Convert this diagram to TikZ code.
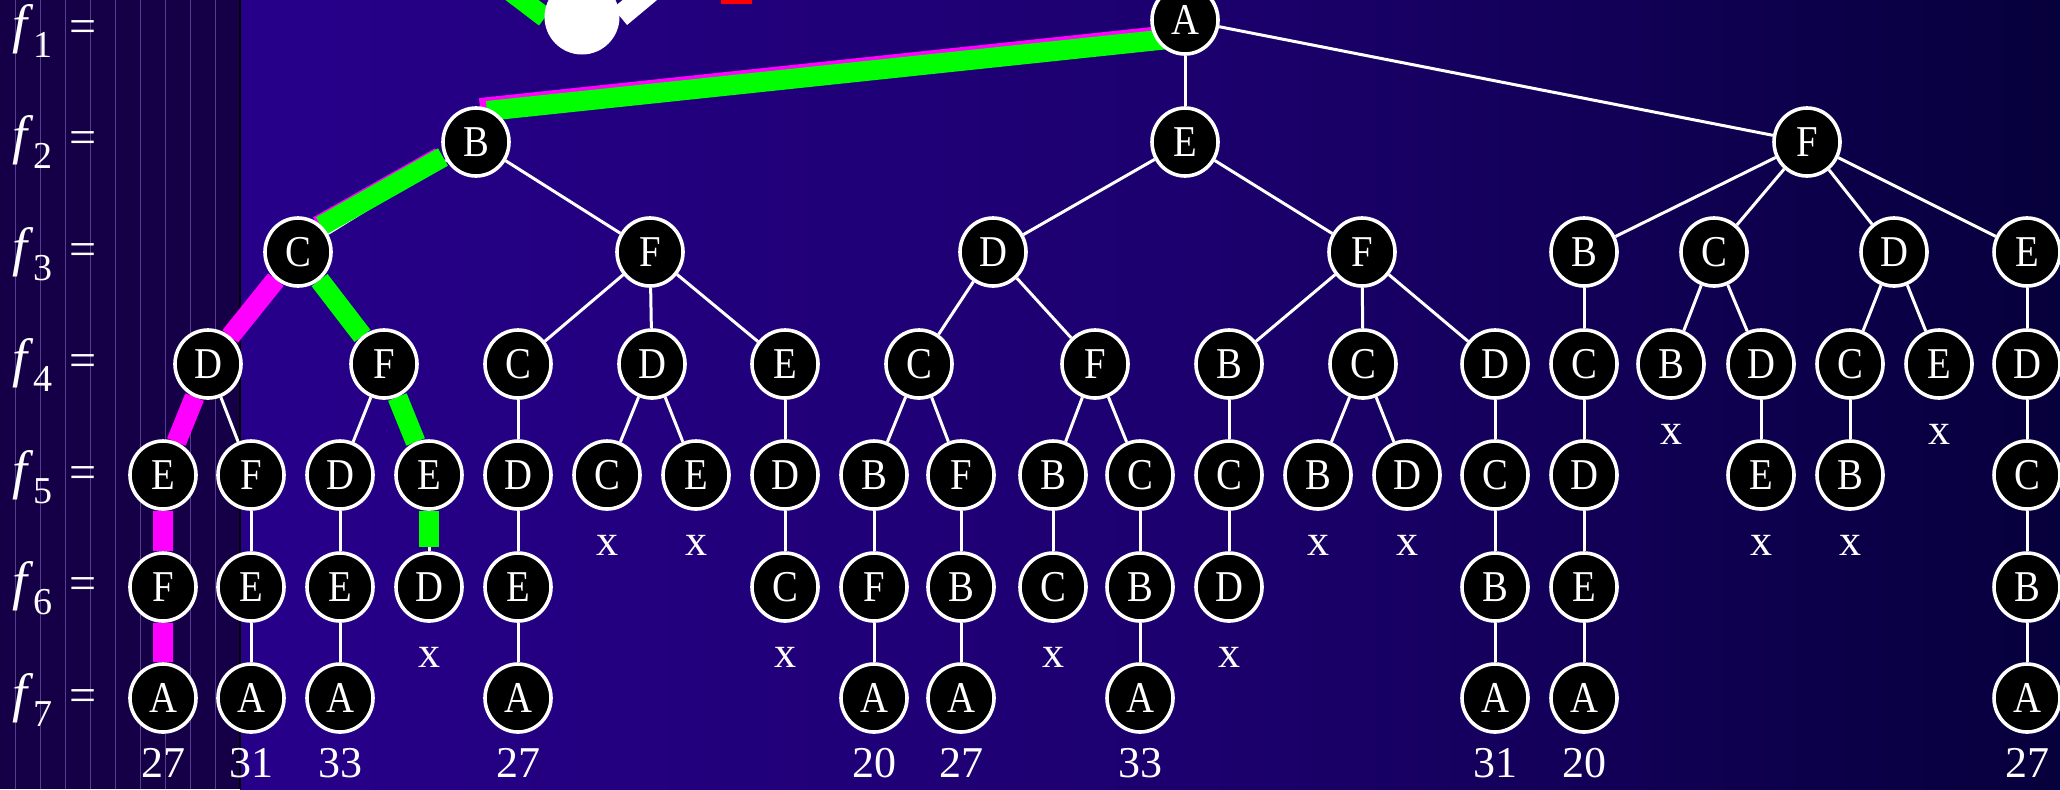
\documentclass[tikz,border=0pt]{standalone}
\usepackage{fontspec}
\setmainfont{Liberation Serif}
\newfontfamily\treefont[FakeStretch=0.88]{Liberation Serif}
\usetikzlibrary{positioning,calc,shapes.geometric,backgrounds}
\definecolor{bgleft}{RGB}{39,0,138}
\definecolor{bgmid}{RGB}{28,0,110}
\definecolor{bgright}{RGB}{6,0,60}
\definecolor{panel}{RGB}{21,0,72}
\definecolor{panelline}{RGB}{84,62,146}
\definecolor{hlgreen}{RGB}{0,255,0}
\definecolor{hlmag}{RGB}{255,0,255}
\definecolor{hlred}{RGB}{255,0,0}
\newcommand{\fsub}[1]{{\fontsize{27}{27}\selectfont\itshape f}\kern3pt\raisebox{-7.5pt}{\fontsize{19}{19}\selectfont #1}\kern8.5pt=}
\tikzset{
  st/.style={ellipse,draw=white,fill=black,line width=1.8pt,minimum width=33pt,
    minimum height=34pt,inner sep=0pt,text=white,
    font=\treefont\fontsize{22}{22}\selectfont},
  tedge/.style={white,line width=1.5pt},
  hlg/.style={hlgreen,line width=10pt},
  hlm/.style={hlmag,line width=10pt},
  xlbl/.style={text=white,inner sep=0pt,font=\fontsize{22}{22}\selectfont},
  costlbl/.style={text=white,inner sep=0pt,font=\fontsize{22}{22}\selectfont},
  flbl/.style={text=white,inner sep=0pt,anchor=base west,
    font=\fontsize{24}{24}\selectfont},
}

\begin{document}
\begin{tikzpicture}[x=0.5pt,y=-0.5pt]
  \useasboundingbox (0,0) rectangle (2060,789);
  % f_k = labels
  \foreach \k in {1,...,7}
    \node[flbl] (f\k) at (12,{42+111.5*(\k-1)}) {\fsub{\k}};
  % level 1--3
  \node[st] (a) at (1185,20) {A};
  \node[st] (ab) at (476,142) {B};
  \node[st] (ae) at (1185,142) {E};
  \node[st] (af) at (1807,142) {F};
  \node[st] (abc) at (298,252) {C};
  \node[st] (abf) at (650,252) {F};
  \node[st] (aed) at (993,252) {D};
  \node[st] (aef) at (1362,252) {F};
  \node[st] (afb) at (1584,252) {B};
  \node[st] (afc) at (1714,252) {C};
  \node[st] (afd) at (1894,252) {D};
  \node[st] (afe) at (2027,252) {E};
  % level 4
  \node[st] (abcd) at (208,364) {D};
  \node[st] (abcf) at (384,364) {F};
  \node[st] (abfc) at (518,364) {C};
  \node[st] (abfd) at (652,364) {D};
  \node[st] (abfe) at (785,364) {E};
  \node[st] (aedc) at (919,364) {C};
  \node[st] (aedf) at (1095,364) {F};
  \node[st] (aefb) at (1229,364) {B};
  \node[st] (aefc) at (1363,364) {C};
  \node[st] (aefd) at (1495,364) {D};
  \node[st] (afbc) at (1584,364) {C};
  \node[st] (afcb) at (1671,364) {B};
  \node[st] (afcd) at (1761,364) {D};
  \node[st] (afdc) at (1850,364) {C};
  \node[st] (afde) at (1939,364) {E};
  \node[st] (afed) at (2027,364) {D};
  % level 5
  \node[st] (abcde) at (163,475) {E};
  \node[st] (abcdf) at (251,475) {F};
  \node[st] (abcfd) at (340,475) {D};
  \node[st] (abcfe) at (429,475) {E};
  \node[st] (abfcd) at (518,475) {D};
  \node[st] (abfdc) at (607,475) {C};
  \node[st] (abfde) at (696,475) {E};
  \node[st] (abfed) at (785,475) {D};
  \node[st] (aedcb) at (874,475) {B};
  \node[st] (aedcf) at (961,475) {F};
  \node[st] (aedfb) at (1053,475) {B};
  \node[st] (aedfc) at (1140,475) {C};
  \node[st] (aefbc) at (1229,475) {C};
  \node[st] (aefcb) at (1318,475) {B};
  \node[st] (aefcd) at (1407,475) {D};
  \node[st] (aefdc) at (1495,475) {C};
  \node[st] (afbcd) at (1584,475) {D};
  \node[st] (afcde) at (1761,475) {E};
  \node[st] (afdcb) at (1850,475) {B};
  \node[st] (afedc) at (2027,475) {C};
  % level 6
  \node[st] (abcdef) at (163,587) {F};
  \node[st] (abcdfe) at (251,587) {E};
  \node[st] (abcfde) at (340,587) {E};
  \node[st] (abcfed) at (429,587) {D};
  \node[st] (abfcde) at (518,587) {E};
  \node[st] (abfedc) at (785,587) {C};
  \node[st] (aedcbf) at (874,587) {F};
  \node[st] (aedcfb) at (961,587) {B};
  \node[st] (aedfbc) at (1053,587) {C};
  \node[st] (aedfcb) at (1140,587) {B};
  \node[st] (aefbcd) at (1229,587) {D};
  \node[st] (aefdcb) at (1495,587) {B};
  \node[st] (afbcde) at (1584,587) {E};
  \node[st] (afedcb) at (2027,587) {B};
  % level 7
  \node[st] (abcdefa) at (163,698) {A};
  \node[st] (abcdfea) at (251,698) {A};
  \node[st] (abcfdea) at (340,698) {A};
  \node[st] (abfcdea) at (518,698) {A};
  \node[st] (aedcbfa) at (874,698) {A};
  \node[st] (aedcfba) at (961,698) {A};
  \node[st] (aedfcba) at (1140,698) {A};
  \node[st] (aefdcba) at (1495,698) {A};
  \node[st] (afbcdea) at (1584,698) {A};
  \node[st] (afedcba) at (2027,698) {A};
  % tour lengths
  \node[costlbl,below=7pt of abcdefa] (sc1) {27};
  \node[costlbl,below=7pt of abcdfea] (sc2) {31};
  \node[costlbl,below=7pt of abcfdea] (sc3) {33};
  \node[costlbl,below=7pt of abfcdea] (sc4) {27};
  \node[costlbl,below=7pt of aedcbfa] (sc5) {20};
  \node[costlbl,below=7pt of aedcfba] (sc6) {27};
  \node[costlbl,below=7pt of aedfcba] (sc7) {33};
  \node[costlbl,below=7pt of aefdcba] (sc8) {31};
  \node[costlbl,below=7pt of afbcdea] (sc9) {20};
  \node[costlbl,below=7pt of afedcba] (sc10) {27};
  % dead ends
  \node[xlbl,below=12pt of abcfed] (x1) {x};
  \node[xlbl,below=12pt of abfdc] (x2) {x};
  \node[xlbl,below=12pt of abfde] (x3) {x};
  \node[xlbl,below=12pt of abfedc] (x4) {x};
  \node[xlbl,below=12pt of aedfbc] (x5) {x};
  \node[xlbl,below=12pt of aefbcd] (x6) {x};
  \node[xlbl,below=12pt of aefcb] (x7) {x};
  \node[xlbl,below=12pt of aefcd] (x8) {x};
  \node[xlbl,below=12pt of afcb] (x9) {x};
  \node[xlbl,below=12pt of afcde] (x10) {x};
  \node[xlbl,below=12pt of afdcb] (x11) {x};
  \node[xlbl,below=12pt of afde] (x12) {x};

  \begin{pgfonlayer}{background}
    \shade[left color=bgleft,right color=bgmid] (240,0) rectangle (1200,789);
    \shade[left color=bgmid,right color=bgright] (1200,0) rectangle (2060,789);
    \fill[panel] (0,0) rectangle (240,789);
    \foreach \x in {15,40,...,215}
      \draw[panelline,line width=0.5pt] (\x,0) -- (\x,789);
    \draw[black,line width=0.6pt] (240,0) -- (240,789);
    % cut-off figure at the top
    \draw[hlgreen,line width=10pt] (545,17.5) -- (497,-19);
    \draw[white,line width=11pt] (620,16.5) -- (659,-16);
    \fill[white] (582,17) circle[radius=37.5];
    \fill[hlred] (721,-5) rectangle (752,4);
    % tree edges
    \foreach \p/\c in {a/ae,a/af,ab/abc,ab/abf,abc/abcd,abc/abcf,
        abcd/abcde,abcd/abcdf,abcde/abcdef,abcdef/abcdefa,abcdf/abcdfe,
        abcdfe/abcdfea,abcf/abcfd,abcf/abcfe,abcfd/abcfde,abcfde/abcfdea,
        abcfe/abcfed,abf/abfc,abf/abfd,abf/abfe,abfc/abfcd,abfcd/abfcde,
        abfcde/abfcdea,abfd/abfdc,abfd/abfde,abfe/abfed,abfed/abfedc,
        ae/aed,ae/aef,aed/aedc,aed/aedf,aedc/aedcb,aedc/aedcf,
        aedcb/aedcbf,aedcbf/aedcbfa,aedcf/aedcfb,aedcfb/aedcfba,
        aedf/aedfb,aedf/aedfc,aedfb/aedfbc,aedfc/aedfcb,aedfcb/aedfcba,
        aef/aefb,aef/aefc,aef/aefd,aefb/aefbc,aefbc/aefbcd,aefc/aefcb,
        aefc/aefcd,aefd/aefdc,aefdc/aefdcb,aefdcb/aefdcba,
        af/afb,af/afc,af/afd,af/afe,afb/afbc,afbc/afbcd,afbcd/afbcde,
        afbcde/afbcdea,afc/afcb,afc/afcd,afcd/afcde,afd/afdc,afd/afde,
        afdc/afdcb,afe/afed,afed/afedc,afedc/afedcb,afedcb/afedcba}
      \draw[tedge] (\p) -- (\c);
    % highlighted paths
    \draw[hlm] ($(ab)+(4,-34)$) -- ($(a)+(-28,16.5)$);
    \draw[hlg] ($(ab)+(11,-31)$) -- ($(a)+(-21,19.5)$);
    \draw[hlm] ($(ab)+(-36,15)$) -- ($(abc)+(20,-26)$);
    \draw[hlg] ($(ab)+(-33,15)$) -- ($(abc)+(23,-26)$);
    \draw[hlm] (abc) -- (abcd) (abcd) -- (abcde) (abcde) -- (abcdef)
      (abcdef) -- (abcdefa);
    \draw[hlg] (abc) -- (abcf) (abcf) -- (abcfe);
    \draw[hlg,shorten >=2pt] (abcfe) -- (abcfed);
  \end{pgfonlayer}
\end{tikzpicture}
\end{document}
